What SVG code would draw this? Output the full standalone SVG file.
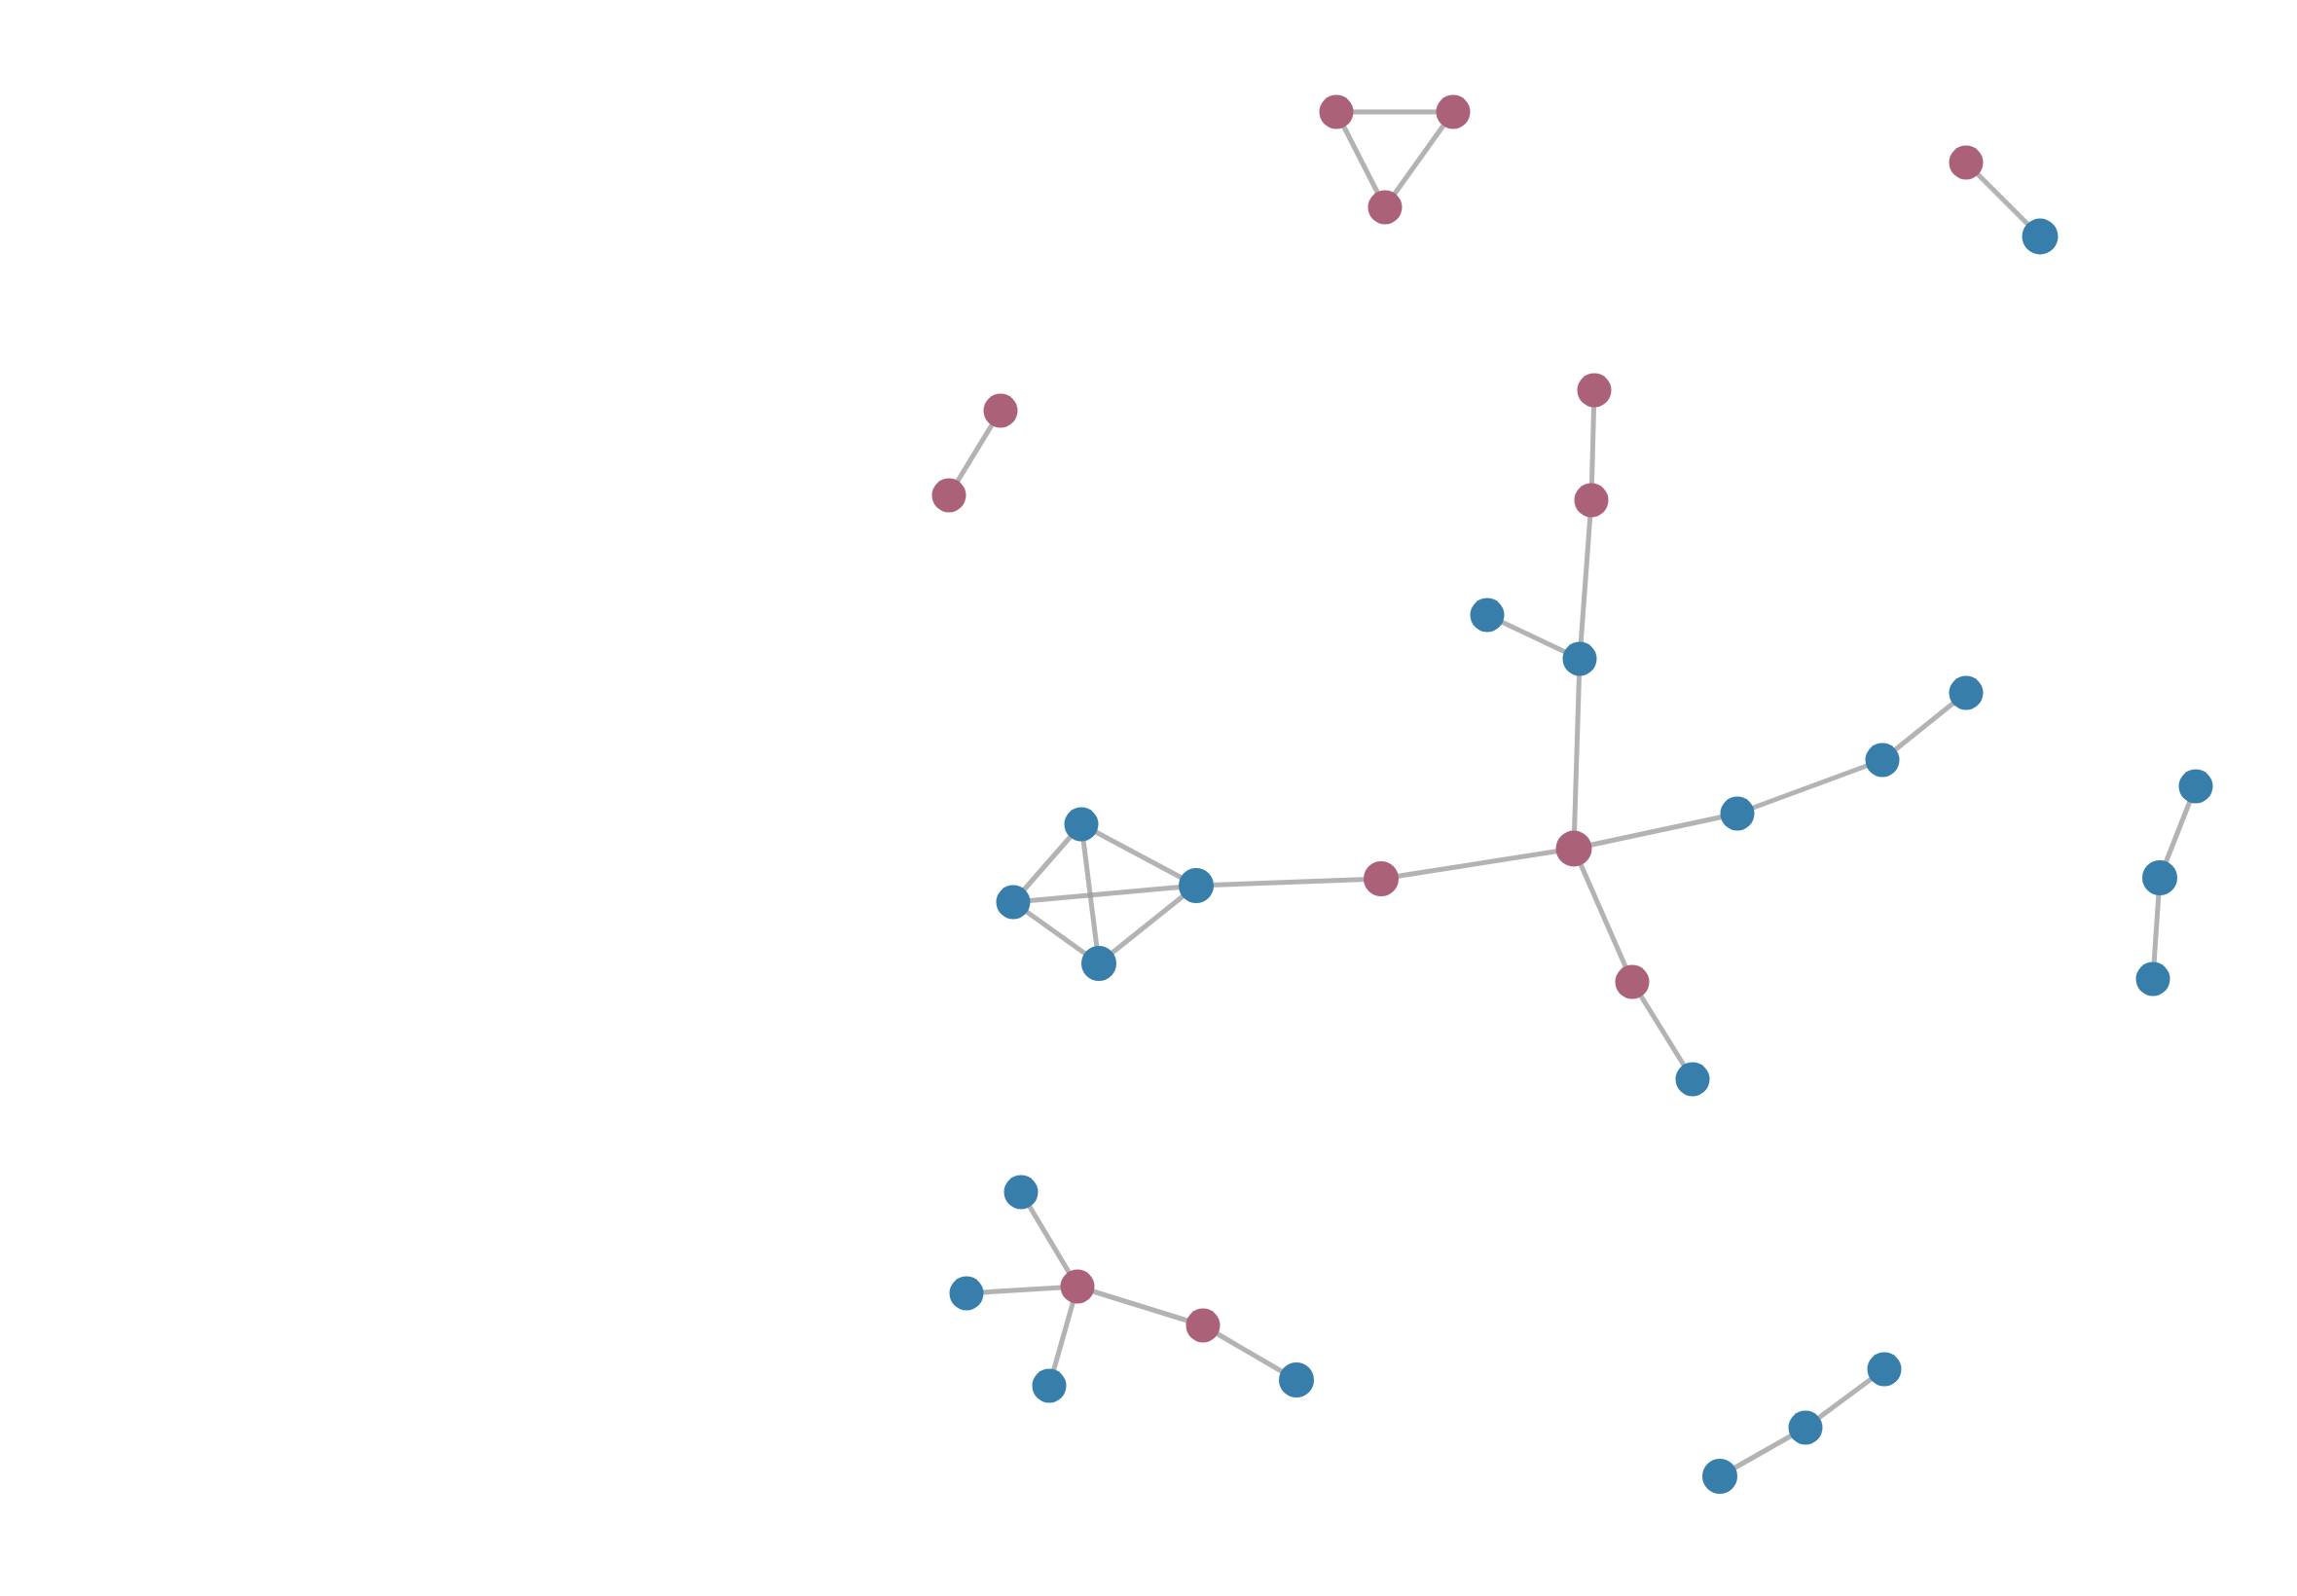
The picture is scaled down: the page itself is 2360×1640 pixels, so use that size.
<svg xmlns="http://www.w3.org/2000/svg" width="2360" height="1640" viewBox="0 0 2360 1640">
<style>
.e{stroke:#999;stroke-opacity:0.75;stroke-width:5;fill:none}
.n{stroke:none}
.p{fill:#ab6178}
.b{fill:#377eab}
</style>
<rect width="2360" height="1640" fill="#fff"/>
<g id="edges">
<line class="e" x1="1373" y1="115" x2="1493" y2="115"/>
<line class="e" x1="1373" y1="115" x2="1423" y2="213"/>
<line class="e" x1="1493" y1="115" x2="1423" y2="213"/>
<line class="e" x1="2020" y1="167" x2="2096" y2="243"/>
<line class="e" x1="1028" y1="422" x2="975" y2="509"/>
<line class="e" x1="1638" y1="401" x2="1635" y2="514"/>
<line class="e" x1="1635" y1="514" x2="1623" y2="677"/>
<line class="e" x1="1528" y1="632" x2="1623" y2="677"/>
<line class="e" x1="1623" y1="677" x2="1617" y2="872"/>
<line class="e" x1="1617" y1="872" x2="1785" y2="836"/>
<line class="e" x1="1785" y1="836" x2="1934" y2="781"/>
<line class="e" x1="1934" y1="781" x2="2020" y2="712"/>
<line class="e" x1="1617" y1="872" x2="1677" y2="1009"/>
<line class="e" x1="1677" y1="1009" x2="1739" y2="1109"/>
<line class="e" x1="1617" y1="872" x2="1419" y2="903"/>
<line class="e" x1="1419" y1="903" x2="1229" y2="910"/>
<line class="e" x1="1111" y1="847" x2="1041" y2="927"/>
<line class="e" x1="1111" y1="847" x2="1229" y2="910"/>
<line class="e" x1="1111" y1="847" x2="1129" y2="990"/>
<line class="e" x1="1041" y1="927" x2="1229" y2="910"/>
<line class="e" x1="1041" y1="927" x2="1129" y2="990"/>
<line class="e" x1="1229" y1="910" x2="1129" y2="990"/>
<line class="e" x1="2256" y1="808" x2="2219" y2="902"/>
<line class="e" x1="2219" y1="902" x2="2212" y2="1006"/>
<line class="e" x1="1049" y1="1225" x2="1107" y2="1322"/>
<line class="e" x1="993" y1="1329" x2="1107" y2="1322"/>
<line class="e" x1="1078" y1="1424" x2="1107" y2="1322"/>
<line class="e" x1="1107" y1="1322" x2="1236" y2="1362"/>
<line class="e" x1="1236" y1="1362" x2="1332" y2="1418"/>
<line class="e" x1="1767" y1="1517" x2="1855" y2="1467"/>
<line class="e" x1="1855" y1="1467" x2="1936" y2="1407"/>
</g>
<g id="n1"><circle class="n p" cx="1373" cy="115" r="17.5"/></g>
<g id="n2"><circle class="n p" cx="1493" cy="115" r="17.5"/></g>
<g id="n3"><circle class="n p" cx="1423" cy="213" r="17.5"/></g>
<g id="n4"><circle class="n p" cx="2020" cy="167" r="17.5"/></g>
<g id="n5"><circle class="n b" cx="2096" cy="243" r="18.5"/></g>
<g id="n6"><circle class="n p" cx="1028" cy="422" r="17.5"/></g>
<g id="n7"><circle class="n p" cx="975" cy="509" r="17.5"/></g>
<g id="n8"><circle class="n p" cx="1638" cy="401" r="17.5"/></g>
<g id="n9"><circle class="n p" cx="1635" cy="514" r="17.5"/></g>
<g id="n10"><circle class="n b" cx="1528" cy="632" r="17.5"/></g>
<g id="n11"><circle class="n b" cx="1623" cy="677" r="17.5"/></g>
<g id="n12"><circle class="n p" cx="1617" cy="872" r="18.5"/></g>
<g id="n13"><circle class="n b" cx="1785" cy="836" r="17.5"/></g>
<g id="n14"><circle class="n b" cx="1934" cy="781" r="17.5"/></g>
<g id="n15"><circle class="n b" cx="2020" cy="712" r="17.5"/></g>
<g id="n16"><circle class="n p" cx="1677" cy="1009" r="17.5"/></g>
<g id="n17"><circle class="n b" cx="1739" cy="1109" r="17.5"/></g>
<g id="n18"><circle class="n p" cx="1419" cy="903" r="18"/></g>
<g id="n19"><circle class="n b" cx="1229" cy="910" r="18"/></g>
<g id="n20"><circle class="n b" cx="1111" cy="847" r="17.5"/></g>
<g id="n21"><circle class="n b" cx="1041" cy="927" r="17.5"/></g>
<g id="n22"><circle class="n b" cx="1129" cy="990" r="18"/></g>
<g id="n23"><circle class="n b" cx="2256" cy="808" r="17.5"/></g>
<g id="n24"><circle class="n b" cx="2219" cy="902" r="18"/></g>
<g id="n25"><circle class="n b" cx="2212" cy="1006" r="17.5"/></g>
<g id="n26"><circle class="n b" cx="1049" cy="1225" r="17.5"/></g>
<g id="n27"><circle class="n b" cx="993" cy="1329" r="17.5"/></g>
<g id="n28"><circle class="n p" cx="1107" cy="1322" r="17.5"/></g>
<g id="n29"><circle class="n b" cx="1078" cy="1424" r="17.5"/></g>
<g id="n30"><circle class="n p" cx="1236" cy="1362" r="17.5"/></g>
<g id="n31"><circle class="n b" cx="1332" cy="1418" r="18"/></g>
<g id="n32"><circle class="n b" cx="1767" cy="1517" r="18"/></g>
<g id="n33"><circle class="n b" cx="1855" cy="1467" r="17.5"/></g>
<g id="n34"><circle class="n b" cx="1936" cy="1407" r="17.5"/></g>
</svg>
